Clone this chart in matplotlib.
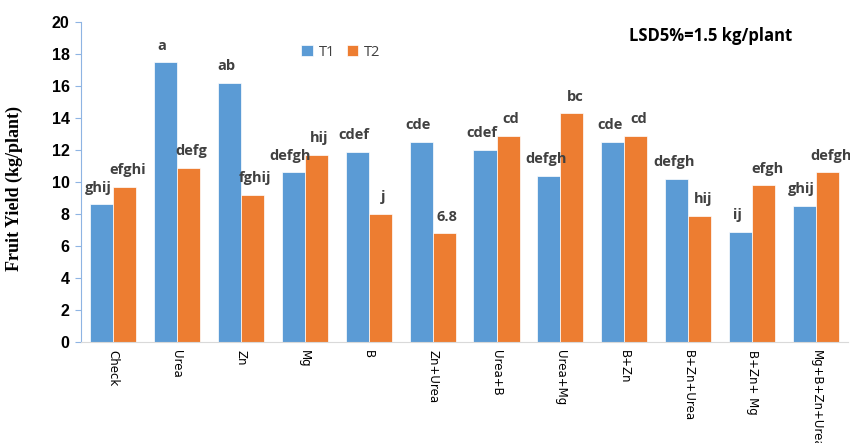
import matplotlib.pyplot as plt
import numpy as np

# data
treatments = ['Check', 'Urea', 'Zn', 'Mg', 'B', 'Zn+Urea', 'Urea+B', 'Urea+Mg',
              'B+Zn', 'B+Zn+Urea', 'B+Zn+ Mg', 'Mg+B+Zn+Urea']
t1 = [8.6, 17.5, 16.2, 10.6, 11.9, 12.5, 12.0, 10.4, 12.5, 10.2, 6.9, 8.5]
t2 = [9.7, 10.9, 9.2, 11.7, 8.0, 6.8, 12.9, 14.3, 12.9, 7.9, 9.8, 10.6]
t1_letters = ['ghij', 'a', 'ab', 'defgh', 'cdef', 'cde', 'cdef', 'defgh',
              'cde', 'defgh', 'ij', 'ghij']
t2_letters = ['efghi', 'defg', 'fghij', 'hij', 'j', '6.8', 'cd', 'bc',
              'cd', 'hij', 'efgh', 'defgh']

blue = '#5B9BD5'
orange = '#ED7D31'
txt = '#404040'

fig = plt.figure(figsize=(8.5, 4.43), dpi=100)
ax = fig.add_axes([0.095, 0.228, 0.903, 0.722])

x = np.arange(len(treatments))
w = 0.36
ax.bar(x - w / 2, t1, w, color=blue, label='T1', edgecolor='white', linewidth=0.5)
ax.bar(x + w / 2, t2, w, color=orange, label='T2', edgecolor='white', linewidth=0.5)

# letters above bars
for xi, v, s in zip(x, t1, t1_letters):
    ax.text(xi - w / 2 - 0.05, v + 0.6, s, ha='center', va='bottom',
            fontsize=10.5, fontweight='bold', color=txt, family='Open Sans')
for xi, v, s in zip(x, t2, t2_letters):
    ax.text(xi + w / 2 + 0.05, v + 0.6, s, ha='center', va='bottom',
            fontsize=10.5, fontweight='bold', color=txt, family='Open Sans')

ax.set_xlim(-0.5, len(treatments) - 0.5)
ax.set_ylim(0, 20)
ax.set_yticks(range(0, 21, 2))
ax.set_xticks(x)
ax.set_xticklabels(treatments, rotation=-90, fontsize=8.5, color='black', family='DejaVu Sans')
ax.tick_params(axis='x', length=0, pad=6)
ax.tick_params(axis='y', length=4, color='#8EB4E3', pad=4)
for lbl in ax.get_yticklabels():
    lbl.set_fontweight('bold')
    lbl.set_fontsize(11.5)
    lbl.set_family('Liberation Sans')

ax.set_ylabel('Fruit Yield (kg/plant)', fontsize=13, fontweight='bold',
              family='Liberation Serif')
ax.yaxis.set_label_coords(-0.075, 0.48)

for sp in ['top', 'right']:
    ax.spines[sp].set_visible(False)
ax.spines['left'].set_color('#8EB4E3')
ax.spines['bottom'].set_color('#D9D9D9')

ax.legend(loc='upper left', bbox_to_anchor=(0.27, 0.97), ncol=2, frameon=False,
          handlelength=0.8, handleheight=0.8, columnspacing=0.8, handletextpad=0.4,
          prop={'family': 'Open Sans', 'size': 10.5})
for t in ax.get_legend().get_texts():
    t.set_color(txt)

fig.text(0.74, 0.918, 'LSD5%=1.5 kg/plant', fontsize=12, fontweight='bold',
         color='black', family='Open Sans', va='center')

fig.savefig('out.png', dpi=100)
